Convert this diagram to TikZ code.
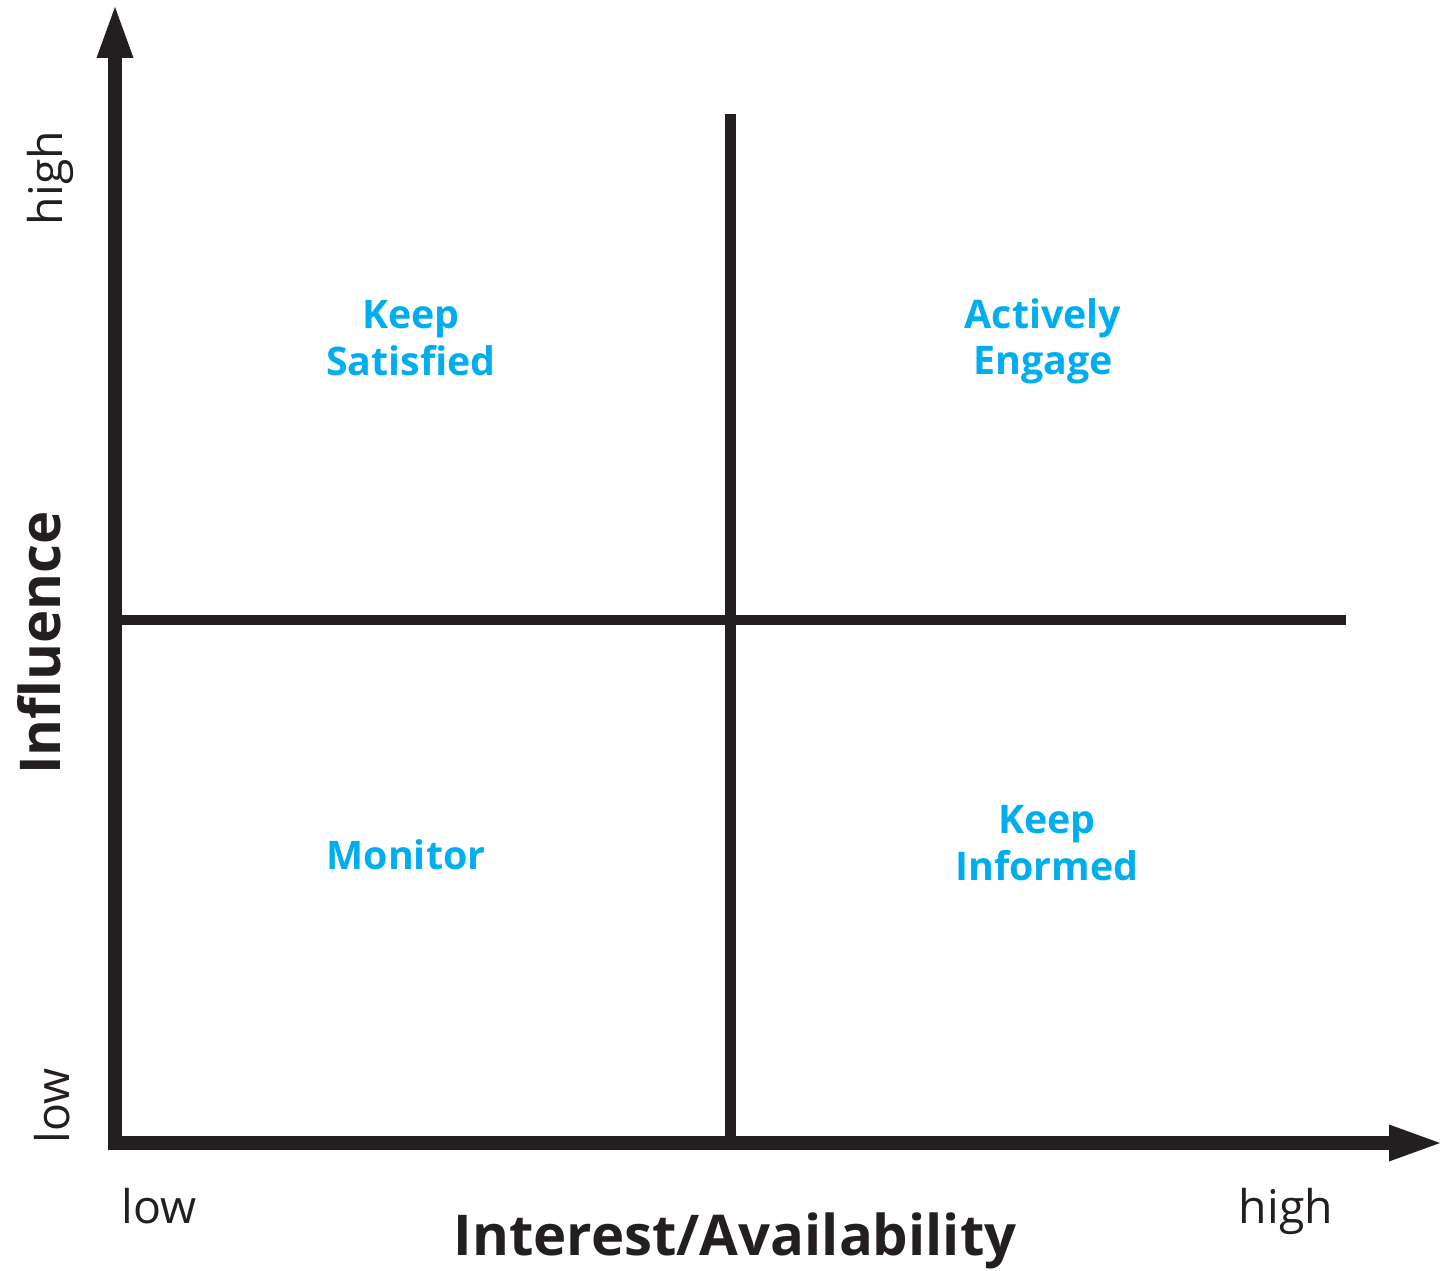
\documentclass[tikz,border=0pt]{standalone}
\usepackage{fontspec}
\setmainfont{Open Sans}
\usepackage{tikz}
\usetikzlibrary{arrows.meta}
\definecolor{ink}{HTML}{231F20}
\definecolor{quad}{HTML}{00AEEF}

\begin{document}
\begin{tikzpicture}[
    axis/.style={ink,line width=3.7pt,line join=miter,
      {Triangle[length=0.51cm,width=0.37cm,line width=0pt]}-{Triangle[length=0.51cm,width=0.37cm,line width=0pt]}},
    split/.style={ink,line width=3pt},
    quadlabel/.style={quad,align=center,font=\fontsize{11.2}{13.2}\selectfont\bfseries},
    ticklabel/.style={ink,font=\fontsize{13.2}{15}\selectfont,inner sep=0pt},
    axislabel/.style={ink,font=\fontsize{16}{19}\selectfont\bfseries,inner sep=0pt}]
    \useasboundingbox (0,0) rectangle (14.52,12.70);
    \coordinate (o) at (1.15,1.27);
    \coordinate (yend) at (1.15,12.63);
    \coordinate (xend) at (14.40,1.27);
    \coordinate (vtop) at (7.305,11.56);
    \coordinate (vbot) at (7.305,1.27);
    \coordinate (hleft) at (1.15,6.50);
    \coordinate (hright) at (13.456,6.50);
    \node[quadlabel] (ks) at (4.11,9.32) {Keep\\Satisfied};
    \node[quadlabel] (ae) at (10.43,9.29) {Actively\\Engage};
    \node[quadlabel] (mo) at (4.06,4.15) {Monitor};
    \node[quadlabel] (ki) at (10.47,4.27) {Keep\\Informed};
    \node[axislabel,anchor=base] (xlab) at (7.35,0.14) {Interest/Availability};
    \node[axislabel,anchor=base,rotate=90] (ylab) at (0.60,6.27) {Influence};
    \node[ticklabel,anchor=base] (xlow) at (1.59,0.46) {low};
    \node[ticklabel,anchor=base] (xhigh) at (12.86,0.46) {high};
    \node[ticklabel,anchor=base,rotate=90] (ylow) at (0.69,1.64) {low};
    \node[ticklabel,anchor=base,rotate=90] (yhigh) at (0.62,10.92) {high};
    \draw[split] (vbot) -- (vtop);
    \draw[split] (hleft) -- (hright);
    \draw[axis] (yend) -- (o) -- (xend);
  \end{tikzpicture}
\end{document}
